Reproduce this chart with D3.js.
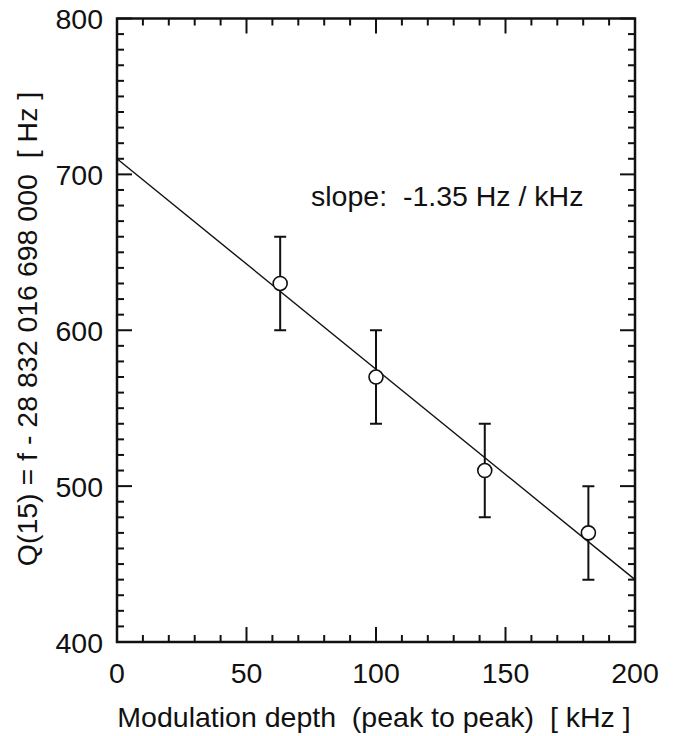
<!DOCTYPE html>
<html>
<head>
<meta charset="utf-8">
<script src="https://cdn.jsdelivr.net/npm/d3@7"></script>
<style>
  body { margin: 0; background: #fff; }
  text { font-family: "Liberation Sans", Arial, sans-serif; fill: #111; }
</style>
</head>
<body>
<div id="chart"></div>
<script>
// measured points
const depth = [63, 100, 142, 182];          // kHz
const qValue = [630, 570, 510, 470];        // Hz
const qError = [30, 30, 30, 30];            // Hz
// fitted line end points
const fitDepth = [0, 200];
const fitQ = [710, 440];
const xTicks = [0, 50, 100, 150, 200];
const yTicks = [400, 500, 600, 700, 800];
const slopeLabel = "slope:  -1.35 Hz / kHz";

let width = 675;
let height = 736;
let margin = ({top: 18.5, right: 40, bottom: 94, left: 117});
let fontSize = 28.5;

const svg = d3.select("#chart").append("svg")
	.attr("width", width)
	.attr("height", height);

let x = d3.scaleLinear()
	.domain([0, 200])
	.range([margin.left, width - margin.right]);

let y = d3.scaleLinear()
	.domain([400, 800])
	.range([height - margin.bottom, margin.top]);

const x0 = x.range()[0], x1 = x.range()[1];
const y0 = y.range()[0], y1 = y.range()[1];

// inward ticks on all four sides
const ticks = svg.append("g").attr("stroke", "#111").attr("stroke-width", 2);
d3.range(0, 201, 10).forEach(v => {
	const len = v % 50 === 0 ? 15 : 7;
	ticks.append("line").attr("x1", x(v)).attr("x2", x(v)).attr("y1", y0).attr("y2", y0 - len);
	ticks.append("line").attr("x1", x(v)).attr("x2", x(v)).attr("y1", y1).attr("y2", y1 + len);
});
d3.range(400, 801, 10).forEach(v => {
	const len = v % 100 === 0 ? 15 : 7;
	ticks.append("line").attr("y1", y(v)).attr("y2", y(v)).attr("x1", x0).attr("x2", x0 + len);
	ticks.append("line").attr("y1", y(v)).attr("y2", y(v)).attr("x1", x1).attr("x2", x1 - len);
});

// frame
svg.append("rect")
	.attr("x", x0).attr("y", y1)
	.attr("width", x1 - x0).attr("height", y0 - y1)
	.attr("fill", "none")
	.attr("stroke", "#111")
	.attr("stroke-width", 2.5);

// tick labels
svg.append("g").selectAll("text")
	.data(xTicks)
	.enter().append("text")
	.attr("x", d => x(d))
	.attr("y", y0 + 41)
	.attr("text-anchor", "middle")
	.attr("font-size", fontSize)
	.text(d => d);

svg.append("g").selectAll("text")
	.data(yTicks)
	.enter().append("text")
	.attr("x", x0 - 14)
	.attr("y", d => y(d) + 10.5)
	.attr("text-anchor", "end")
	.attr("font-size", fontSize)
	.text(d => d);

// axis titles
svg.append("text")
	.attr("x", (x0 + x1) / 2 - 2)
	.attr("y", 727)
	.attr("text-anchor", "middle")
	.attr("font-size", fontSize)
	.attr("xml:space", "preserve")
	.text("Modulation depth  (peak to peak)  [ kHz ]");

svg.append("text")
	.attr("transform", `translate(37,329) rotate(-90)`)
	.attr("text-anchor", "middle")
	.attr("font-size", fontSize)
	.attr("xml:space", "preserve")
	.text("Q(15) = f - 28 832 016 698 000  [ Hz ]");

// fit line
svg.append("path")
	.attr("fill", "none")
	.attr("stroke", "#111")
	.attr("stroke-width", 1.4)
	.attr("d", d3.line().x(d => x(d[0])).y(d => y(d[1]))(d3.zip(fitDepth, fitQ)));

svg.append("text")
	.attr("x", 311)
	.attr("y", 206)
	.attr("font-size", fontSize)
	.attr("xml:space", "preserve")
	.text(slopeLabel);

// error bars and points
const pts = depth.map((d, i) => ({x: d, y: qValue[i], e: qError[i]}));
const g = svg.append("g").selectAll("g")
	.data(pts)
	.enter().append("g")
	.attr("stroke", "#111");

g.append("path")
	.attr("fill", "none")
	.attr("stroke-width", 2)
	.attr("d", d => `
		M${x(d.x)},${y(d.y + d.e)} V${y(d.y - d.e)}
		M${x(d.x) - 6},${y(d.y + d.e)} H${x(d.x) + 6}
		M${x(d.x) - 6},${y(d.y - d.e)} H${x(d.x) + 6}
	`);

g.append("circle")
	.attr("cx", d => x(d.x))
	.attr("cy", d => y(d.y))
	.attr("r", 7)
	.attr("fill", "#fff")
	.attr("stroke-width", 1.6);
</script>
</body>
</html>
